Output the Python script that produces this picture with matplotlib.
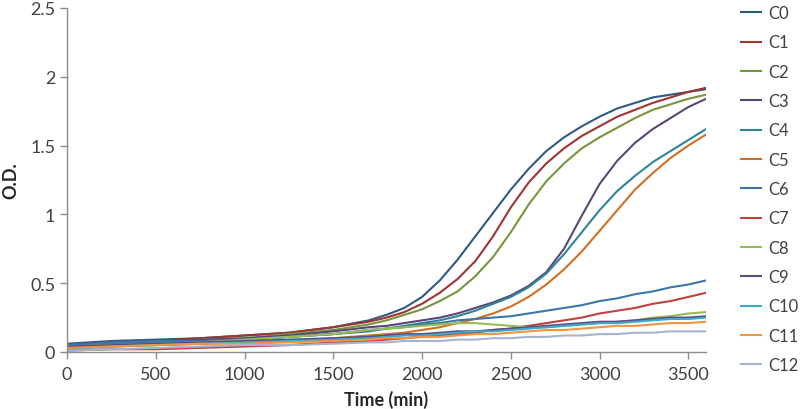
import matplotlib
matplotlib.use("Agg")
import matplotlib.pyplot as plt

plt.rcParams['font.family'] = ['Lato', 'DejaVu Sans']

# Time points (min)
time = [0, 250, 500, 750, 1000, 1250, 1500, 1700, 1800, 1900, 2000, 2100, 2200, 2300,
        2400, 2500, 2600, 2700, 2800, 2900, 3000, 3100, 3200, 3300, 3400, 3500, 3600]

# O.D. readings per culture
c0 = [0.06, 0.08, 0.09, 0.10, 0.12, 0.14, 0.18, 0.23, 0.27, 0.32, 0.40, 0.52, 0.67, 0.84,
      1.01, 1.18, 1.33, 1.46, 1.56, 1.64, 1.71, 1.77, 1.81, 1.85, 1.87, 1.89, 1.91]
c1 = [0.05, 0.07, 0.08, 0.10, 0.12, 0.14, 0.18, 0.22, 0.25, 0.29, 0.35, 0.43, 0.53, 0.66,
      0.84, 1.05, 1.23, 1.37, 1.48, 1.57, 1.64, 1.71, 1.76, 1.81, 1.85, 1.89, 1.92]
c2 = [0.05, 0.06, 0.07, 0.09, 0.10, 0.13, 0.16, 0.20, 0.23, 0.27, 0.31, 0.37, 0.44, 0.55,
      0.69, 0.87, 1.07, 1.24, 1.37, 1.48, 1.56, 1.63, 1.70, 1.76, 1.80, 1.84, 1.87]
c3 = [0.05, 0.07, 0.08, 0.09, 0.10, 0.12, 0.15, 0.18, 0.19, 0.21, 0.23, 0.25, 0.28, 0.32,
      0.36, 0.41, 0.48, 0.58, 0.75, 0.99, 1.22, 1.39, 1.52, 1.62, 1.70, 1.78, 1.84]
c4 = [0.04, 0.06, 0.07, 0.08, 0.09, 0.11, 0.13, 0.16, 0.17, 0.19, 0.21, 0.23, 0.26, 0.30,
      0.35, 0.40, 0.47, 0.57, 0.71, 0.87, 1.03, 1.17, 1.28, 1.38, 1.46, 1.54, 1.62]
c5 = [0.03, 0.04, 0.05, 0.06, 0.07, 0.08, 0.10, 0.12, 0.13, 0.14, 0.16, 0.18, 0.21, 0.24,
      0.28, 0.33, 0.40, 0.49, 0.60, 0.73, 0.88, 1.03, 1.18, 1.30, 1.41, 1.50, 1.58]
c6 = [0.05, 0.07, 0.08, 0.08, 0.09, 0.11, 0.13, 0.15, 0.17, 0.18, 0.20, 0.21, 0.23, 0.24,
      0.25, 0.26, 0.28, 0.30, 0.32, 0.34, 0.37, 0.39, 0.42, 0.44, 0.47, 0.49, 0.52]
c7 = [0.01, 0.02, 0.02, 0.03, 0.04, 0.05, 0.07, 0.08, 0.09, 0.10, 0.11, 0.12, 0.13, 0.14,
      0.16, 0.17, 0.19, 0.21, 0.23, 0.25, 0.28, 0.30, 0.32, 0.35, 0.37, 0.40, 0.43]
c8 = [0.04, 0.05, 0.06, 0.07, 0.09, 0.11, 0.13, 0.16, 0.17, 0.18, 0.19, 0.20, 0.21, 0.21,
      0.20, 0.19, 0.18, 0.18, 0.19, 0.20, 0.21, 0.22, 0.23, 0.25, 0.26, 0.28, 0.29]
c9 = [0.04, 0.05, 0.06, 0.07, 0.08, 0.09, 0.10, 0.11, 0.12, 0.13, 0.13, 0.14, 0.15, 0.15,
      0.16, 0.17, 0.18, 0.19, 0.20, 0.21, 0.22, 0.22, 0.23, 0.24, 0.25, 0.25, 0.26]
c10 = [0.02, 0.04, 0.05, 0.06, 0.07, 0.08, 0.09, 0.10, 0.11, 0.12, 0.12, 0.13, 0.14, 0.15,
       0.15, 0.16, 0.17, 0.18, 0.19, 0.20, 0.21, 0.21, 0.22, 0.23, 0.24, 0.24, 0.25]
c11 = [0.03, 0.04, 0.05, 0.06, 0.06, 0.07, 0.08, 0.09, 0.10, 0.10, 0.11, 0.11, 0.12, 0.13,
       0.13, 0.14, 0.15, 0.16, 0.16, 0.17, 0.18, 0.19, 0.19, 0.20, 0.21, 0.21, 0.22]
c12 = [0.01, 0.02, 0.03, 0.04, 0.05, 0.05, 0.06, 0.07, 0.07, 0.08, 0.08, 0.08, 0.09, 0.09,
       0.10, 0.10, 0.11, 0.11, 0.12, 0.12, 0.13, 0.13, 0.14, 0.14, 0.15, 0.15, 0.15]

labels = ["C0", "C1", "C2", "C3", "C4", "C5", "C6", "C7", "C8", "C9", "C10", "C11", "C12"]
series = [c0, c1, c2, c3, c4, c5, c6, c7, c8, c9, c10, c11, c12]
colors = ["#2f5a86", "#9e3533", "#77963c", "#5b4679", "#2f8598", "#cf6f24",
          "#3d76ad", "#c0413e", "#99bb55", "#5d4a86", "#3aaac6", "#f29440", "#a3b4d3"]

fig = plt.figure(figsize=(8, 4.1), dpi=100)
ax = fig.add_axes([67 / 800, 57 / 410, 639 / 800, 344 / 410])

for lab, y, c in zip(labels, series, colors):
    ax.plot(time, y, color=c, lw=1.5, label=lab)

ax.set_xlim(0, 3600)
ax.set_ylim(0, 2.5)
ax.set_xticks(range(0, 3600, 500))
ax.set_yticks([0, 0.5, 1, 1.5, 2, 2.5])
ax.set_yticklabels(["0", "0.5", "1", "1.5", "2", "2.5"])

for s in ["top", "right"]:
    ax.spines[s].set_visible(False)
for s in ["left", "bottom"]:
    ax.spines[s].set_color("#8c8c8c")
    ax.spines[s].set_linewidth(1)
ax.tick_params(axis="both", colors="#8c8c8c", labelcolor="#404040", labelsize=13,
               length=5, width=1, direction="out")
ax.tick_params(axis="x", pad=5)

ax.set_xlabel("Time (min)", fontsize=13, fontweight="bold", color="#262626", labelpad=6)
ax.set_ylabel("O.D.", fontsize=13, fontweight="bold", color="#262626")
ax.yaxis.set_label_coords(-0.074, 0.5)

leg = ax.legend(loc="upper left", bbox_to_anchor=(741 / 800, 404 / 410),
                bbox_transform=fig.transFigure, frameon=False, fontsize=12,
                handlelength=1.2, handletextpad=0.45, labelspacing=0.80,
                borderaxespad=0, borderpad=0)
for t in leg.get_texts():
    t.set_color("#404040")

fig.savefig("out.png", dpi=100)
